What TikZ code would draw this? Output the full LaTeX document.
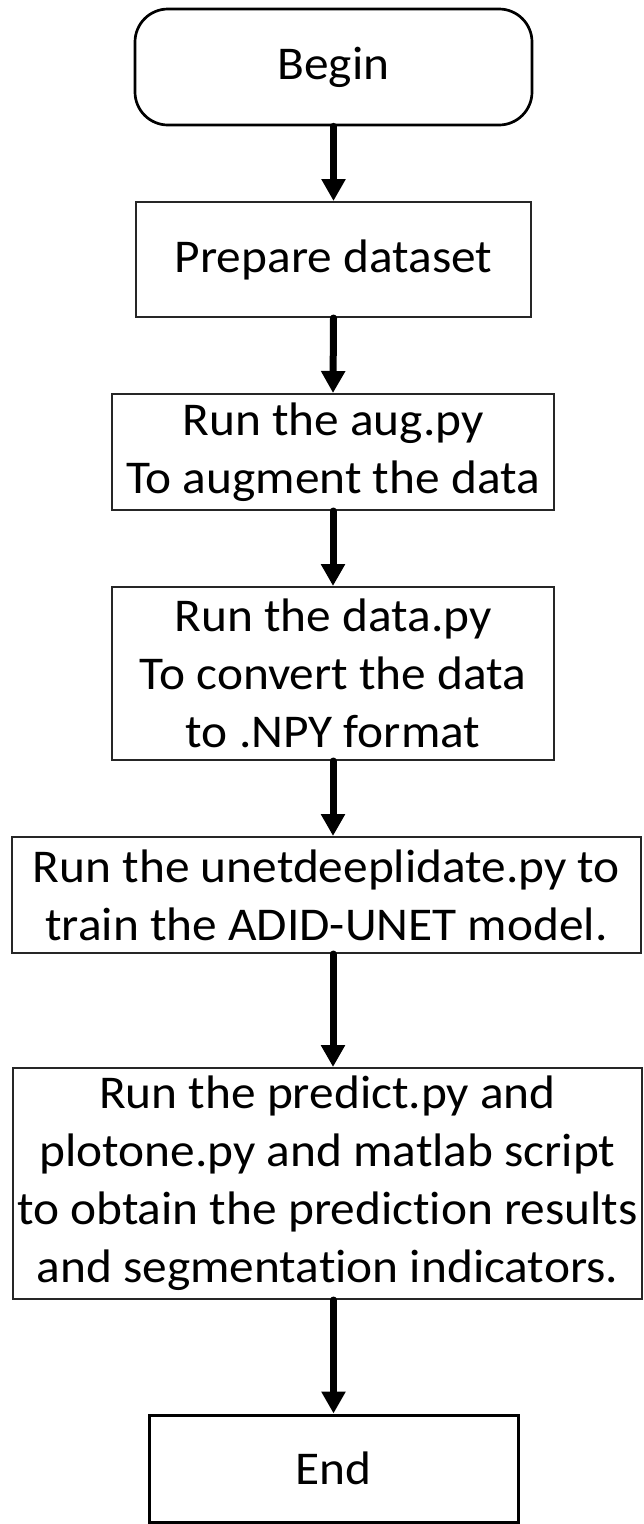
\documentclass[tikz,border=0pt]{standalone}
\usepackage{fontspec}
\setmainfont{Carlito}[FakeStretch=1.05,Ligatures=NoCommon]
\usetikzlibrary{shapes,arrows.meta}
\tikzstyle{term}=[draw=black,line width=2.7pt,rounded corners=33pt,inner sep=0pt,align=center,font=\fontsize{47pt}{58pt}\selectfont]
\tikzstyle{proc}=[draw=black!85,line width=2pt,inner sep=0pt,align=center,font=\fontsize{47pt}{58pt}\selectfont]
\tikzstyle{stop}=[draw=black,line width=3pt,inner sep=0pt,align=center,font=\fontsize{47pt}{58pt}\selectfont]
\tikzstyle{flow}=[line width=7pt,line cap=round,-{Triangle[width=23pt,length=22pt]}]

\begin{document}
\begin{tikzpicture}[x=1pt,y=-1pt]
\useasboundingbox (0,0) rectangle (644,1524);
\node[term,minimum width=397pt,minimum height=116pt] (begin) at (333.5,67) {Begin};
\node[proc,minimum width=395pt,minimum height=115pt] (prep) at (333.5,259.5) {Prepare dataset};
\node[proc,minimum width=442pt,minimum height=116pt] (aug) at (333,452) {Run the aug.py\\To augment the data};
\node[proc,minimum width=442pt,minimum height=173pt] (data) at (333,673.5) {Run the data.py\\ To convert the data\\to .NPY format};
\node[proc,minimum width=629pt,minimum height=116pt] (unet) at (326.5,895) {Run the unetdeeplidate.py to\\train the ADID-UNET model.};
\node[proc,minimum width=629pt,minimum height=231pt] (pred) at (327.5,1183.5) {Run the predict.py and\\plotone.py and matlab script\\to obtain the prediction results\\and segmentation indicators.};
\node[stop,minimum width=369pt,minimum height=107pt] (end) at (333.5,1468.5) {End};
% arrows
\draw[flow] (begin.south) -- (prep.north);
\draw[flow] (prep.south) -- (aug.north);
\draw[flow] (aug.south) -- (data.north);
\draw[flow] (data.south) -- (data.south |- unet.north);
\draw[flow] (unet.south -| data.south) -- (data.south |- pred.north);
\draw[flow] (pred.south -| end.north) -- (end.north);
\end{tikzpicture}
\end{document}
